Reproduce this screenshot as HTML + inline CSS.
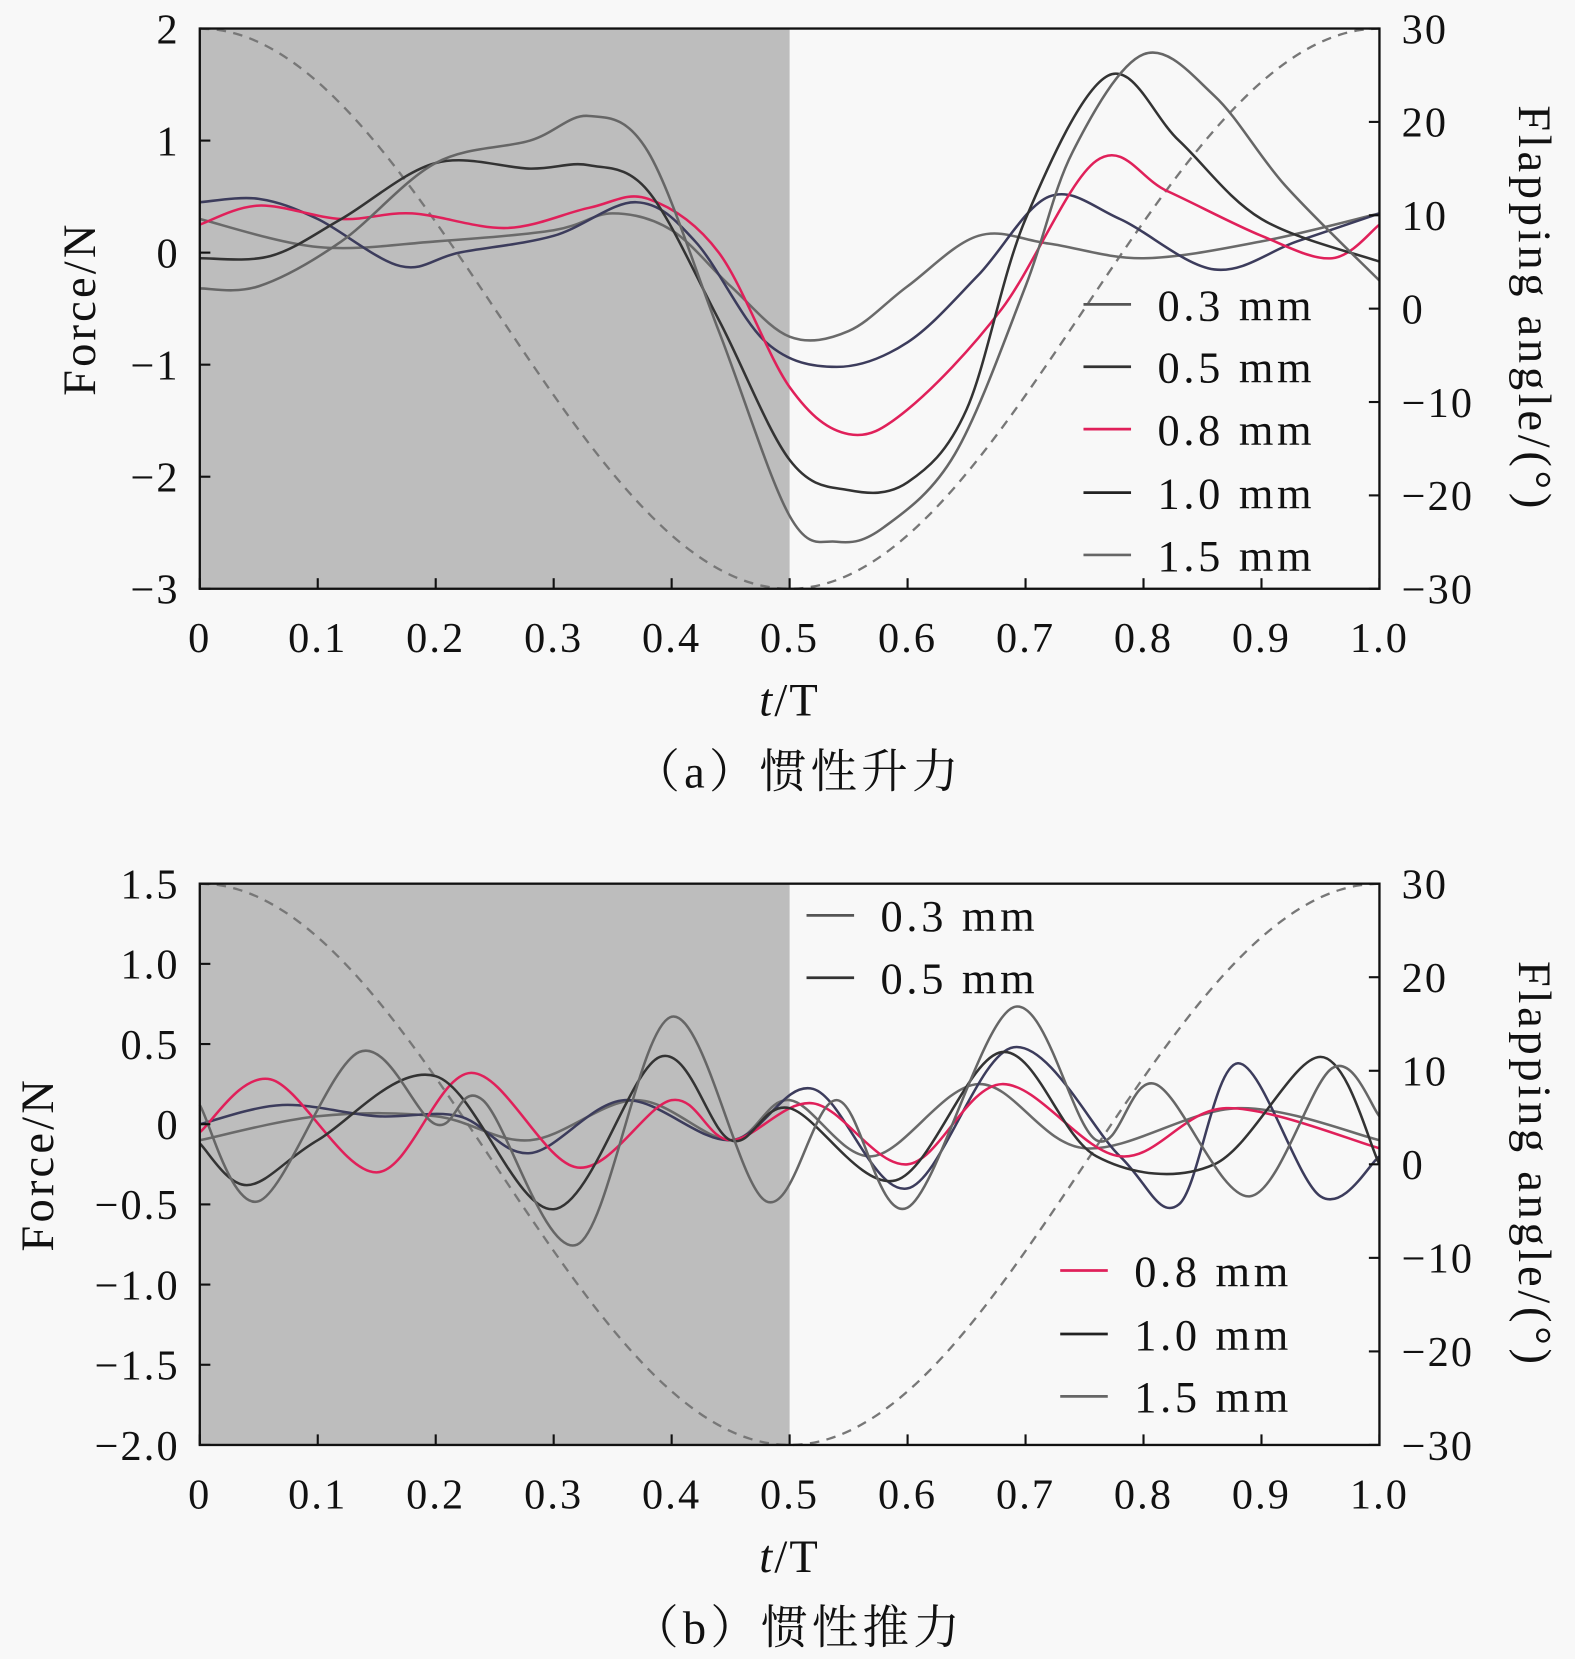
<!DOCTYPE html>
<html><head><meta charset="utf-8"><style>
html,body{margin:0;padding:0;background:#f8f8f8;}
svg{display:block}
text{font-family:"Liberation Serif","Noto Serif CJK SC",serif;fill:#111;}
</style></head><body>
<svg id="s" width="1575" height="1659" viewBox="0 0 1490 1569.5" preserveAspectRatio="none" xmlns="http://www.w3.org/2000/svg">
<rect x="0" y="0" width="1490" height="1570" fill="#f8f8f8"/>
<g id="g"></g>
</svg>
<script>
const NS="http://www.w3.org/2000/svg";
const g=document.getElementById('g');
function el(t,a,txt){const e=document.createElementNS(NS,t);for(const k in a)e.setAttribute(k,a[k]);if(txt!=null)e.textContent=txt;g.appendChild(e);return e;}
function cr(pts){let d=`M${pts[0][0].toFixed(1)},${pts[0][1].toFixed(1)}`;
for(let i=0;i<pts.length-1;i++){const p0=pts[i-1]||pts[i],p1=pts[i],p2=pts[i+1],p3=pts[i+2]||p2;
const c1=[p1[0]+(p2[0]-p0[0])/6,p1[1]+(p2[1]-p0[1])/6],c2=[p2[0]-(p3[0]-p1[0])/6,p2[1]-(p3[1]-p1[1])/6];
d+=`C${c1[0].toFixed(1)},${c1[1].toFixed(1)} ${c2[0].toFixed(1)},${c2[1].toFixed(1)} ${p2[0].toFixed(1)},${p2[1].toFixed(1)}`;}return d;}
const L=189,R=1305,W=R-L;
const TS={'font-size':40,'letter-spacing':2};
function T(a,txt){return el('text',Object.assign({},TS,a),txt);}
function panel(top,bot,fmax,fmin,fticks,series,legs){
  const X=t=>L+W*t, Y=f=>top+(fmax-f)/(fmax-fmin)*(bot-top);
  el('rect',{x:L,y:top,width:W/2,height:bot-top,fill:'#bdbdbd'});
  let p=[];for(let i=0;i<=60;i++){const t=i/60;p.push([X(t),top+(30-30*Math.cos(2*Math.PI*t))/60*(bot-top)]);}
  el('path',{d:cr(p),fill:'none',stroke:'#777','stroke-width':2.2,'stroke-dasharray':'9,7'});
  for(const s of series){el('path',{d:cr(s.p.map(q=>[X(q[0]),Y(q[1])])),fill:'none',stroke:s.c,'stroke-width':2.4});}
  el('rect',{x:L,y:top,width:W,height:bot-top,fill:'none',stroke:'#111','stroke-width':2.2});
  for(let i=0;i<=10;i++){const x=X(i/10);el('line',{x1:x,y1:bot,x2:x,y2:bot-10,stroke:'#111','stroke-width':2});
    T({x:x,y:bot+60,'text-anchor':'middle'},i==0?'0':(i==10?'1.0':'0.'+i));}
  for(const f of fticks){const y=Y(f);el('line',{x1:L,y1:y,x2:L+10,y2:y,stroke:'#111','stroke-width':2});
    T({x:170,y:y+14,'text-anchor':'end'},f.lab);}
  for(let a=-30;a<=30;a+=10){const y=top+(30-a)/60*(bot-top);el('line',{x1:R-10,y1:y,x2:R,y2:y,stroke:'#111','stroke-width':2});
    T({x:1326,y:y+14},a<0?'−'+(-a):String(a));}
  const mid=(top+bot)/2;
  el('text',{x:0,y:0,'font-size':44,'letter-spacing':3,'text-anchor':'middle',transform:`translate(${top<500?90:50},${mid}) rotate(-90)`},'Force/N');
  el('text',{x:0,y:0,'font-size':44,'letter-spacing':3.5,'text-anchor':'middle',transform:`translate(1437,${mid}) rotate(90)`},'Flapping angle/(°)');
  const tt=el('text',{x:747,y:bot+120,'font-size':44,'letter-spacing':2,'text-anchor':'middle'});tt.innerHTML='<tspan font-style="italic">t</tspan>/T';
  for(const l of legs){el('line',{x1:l[0],y1:l[1],x2:l[0]+45,y2:l[1],stroke:l[3],'stroke-width':2.6});
    el('text',{x:l[0]+70,y:l[1]+15,'font-size':42,'letter-spacing':3.5},l[2]);}
}
function ft(arr){return arr.map(v=>{const o=new Number(v);o.lab=v<0?'−'+(-v):String(v);return o;});}
const A=[
{c:'#6a6a6a',p:[[0,0.3],[0.1,0.05],[0.2,0.1],[0.3,0.2],[0.35,0.35],[0.4,0.2],[0.45,-0.3],[0.5,-0.75],[0.55,-0.7],[0.6,-0.3],[0.66,0.15],[0.72,0.08],[0.8,-0.05],[0.9,0.1],[1.0,0.35]]},
{c:'#3c3c5c',p:[[0,0.45],[0.05,0.48],[0.1,0.3],[0.17,-0.12],[0.22,0.0],[0.3,0.15],[0.37,0.45],[0.42,0.1],[0.48,-0.8],[0.54,-1.02],[0.6,-0.8],[0.66,-0.2],[0.72,0.5],[0.78,0.3],[0.86,-0.15],[0.93,0.1],[1.0,0.35]]},
{c:'#e0205a',p:[[0,0.25],[0.05,0.42],[0.12,0.3],[0.18,0.35],[0.26,0.22],[0.33,0.4],[0.38,0.48],[0.44,0.0],[0.5,-1.2],[0.55,-1.62],[0.6,-1.4],[0.68,-0.5],[0.76,0.82],[0.82,0.55],[0.9,0.15],[0.96,-0.05],[1.0,0.25]]},
{c:'#333',p:[[0,-0.05],[0.06,-0.03],[0.12,0.3],[0.2,0.8],[0.28,0.75],[0.33,0.78],[0.38,0.55],[0.44,-0.6],[0.5,-1.85],[0.55,-2.12],[0.6,-2.05],[0.65,-1.4],[0.7,0.3],[0.77,1.58],[0.83,1.0],[0.9,0.3],[1.0,-0.08]]},
{c:'#666',p:[[0,-0.32],[0.05,-0.3],[0.12,0.1],[0.2,0.8],[0.28,1.0],[0.33,1.22],[0.38,0.9],[0.44,-0.7],[0.5,-2.35],[0.54,-2.58],[0.58,-2.45],[0.64,-1.8],[0.7,-0.3],[0.74,0.9],[0.8,1.77],[0.86,1.4],[0.92,0.6],[1.0,-0.25]]}];
panel(27,557,2,-3,ft([2,1,0,-1,-2,-3]),A,[[1025,288,'0.3 mm','#555'],[1025,347,'0.5 mm','#333'],[1025,406,'0.8 mm','#e0205a'],[1025,466,'1.0 mm','#222'],[1025,525,'1.5 mm','#666']]);
el('text',{x:755,y:745,'font-size':44,'letter-spacing':4,'text-anchor':'middle'},'（a）惯性升力');
const B=[
{c:'#6a6a6a',p:[[0,-0.1],[0.1,0.05],[0.2,0.05],[0.28,-0.1],[0.37,0.15],[0.45,-0.1],[0.5,0.15],[0.57,-0.2],[0.66,0.25],[0.75,-0.15],[0.88,0.1],[1.0,-0.1]]},
{c:'#3c3c5c',p:[[0,0.0],[0.07,0.12],[0.15,0.05],[0.22,0.05],[0.28,-0.18],[0.36,0.15],[0.45,-0.1],[0.52,0.22],[0.6,-0.4],[0.69,0.48],[0.78,-0.2],[0.83,-0.5],[0.88,0.38],[0.95,-0.45],[1.0,-0.2]]},
{c:'#e0205a',p:[[0,-0.05],[0.06,0.28],[0.15,-0.3],[0.23,0.32],[0.32,-0.27],[0.4,0.15],[0.45,-0.1],[0.52,0.13],[0.6,-0.25],[0.68,0.25],[0.78,-0.2],[0.87,0.1],[1.0,-0.15]]},
{c:'#333',p:[[0,-0.12],[0.04,-0.38],[0.1,-0.1],[0.2,0.3],[0.3,-0.53],[0.39,0.42],[0.45,-0.1],[0.5,0.1],[0.59,-0.35],[0.68,0.45],[0.76,-0.2],[0.86,-0.25],[0.95,0.42],[1.0,-0.25]]},
{c:'#666',p:[[0,0.12],[0.05,-0.48],[0.135,0.45],[0.2,0.0],[0.24,0.15],[0.32,-0.75],[0.4,0.67],[0.48,-0.48],[0.54,0.15],[0.6,-0.52],[0.69,0.73],[0.76,-0.1],[0.81,0.25],[0.89,-0.45],[0.96,0.35],[1.0,0.05]]}];
const fb=ft([1.5,1,0.5,0,-0.5,-1,-1.5,-2]);['1.5','1.0','0.5','0','−0.5','−1.0','−1.5','−2.0'].forEach((s,i)=>fb[i].lab=s);
panel(836,1367,1.5,-2,fb,B,[[763,866,'0.3 mm','#555'],[763,925,'0.5 mm','#333'],[1003,1202,'0.8 mm','#e0205a'],[1003,1262,'1.0 mm','#222'],[1003,1321,'1.5 mm','#666']]);
el('text',{x:755,y:1555,'font-size':44,'letter-spacing':4,'text-anchor':'middle'},'（b）惯性推力');
</script>
</body></html>
